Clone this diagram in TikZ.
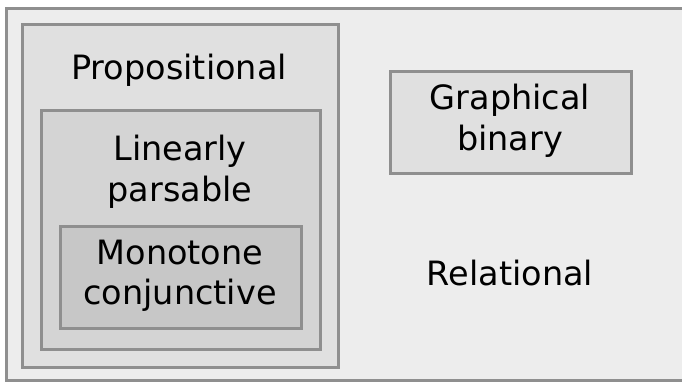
\documentclass[tikz,border=0pt]{standalone}
\usepackage{fontspec}
\setmainfont{DejaVu Sans}
\tikzset{
  box/.style={draw=black!44, line width=2.6pt},
  lbl/.style={align=center, font=\fontsize{33.5}{40.5}\selectfont, inner sep=0pt},
}
\begin{document}
\begin{tikzpicture}[x=1pt,y=-1pt]
\useasboundingbox (0,0) rectangle (682,382);
\fill[white] (0,0) rectangle (682,382);
\clip (0,0) rectangle (682,382);
\node[box, fill=black!7, minimum width=684pt, minimum height=372pt, anchor=north west, inner sep=0pt] (rel) at (5,7) {};
\node[box, fill=black!12, minimum width=316pt, minimum height=343pt, anchor=north west, inner sep=0pt] (prop) at (21,23) {};
\node[box, fill=black!17, minimum width=279pt, minimum height=239pt, anchor=north west, inner sep=0pt] (lin) at (40,109) {};
\node[box, fill=black!22, minimum width=241pt, minimum height=102pt, anchor=north west, inner sep=0pt] (mono) at (59,225) {};
\node[box, fill=black!12, minimum width=241pt, minimum height=102pt, anchor=north west, inner sep=0pt] (graph) at (389,70) {};
\node[lbl] (tprop) at (179,70) {Propositional};
\node[lbl] (tlin) at (180,172) {Linearly\\parsable};
\node[lbl] (tmono) at (180,276) {Monotone\\conjunctive};
\node[lbl] (tgraph) at (510,121) {Graphical\\binary};
\node[lbl] (trel) at (510,273) {Relational};
\end{tikzpicture}
\end{document}
